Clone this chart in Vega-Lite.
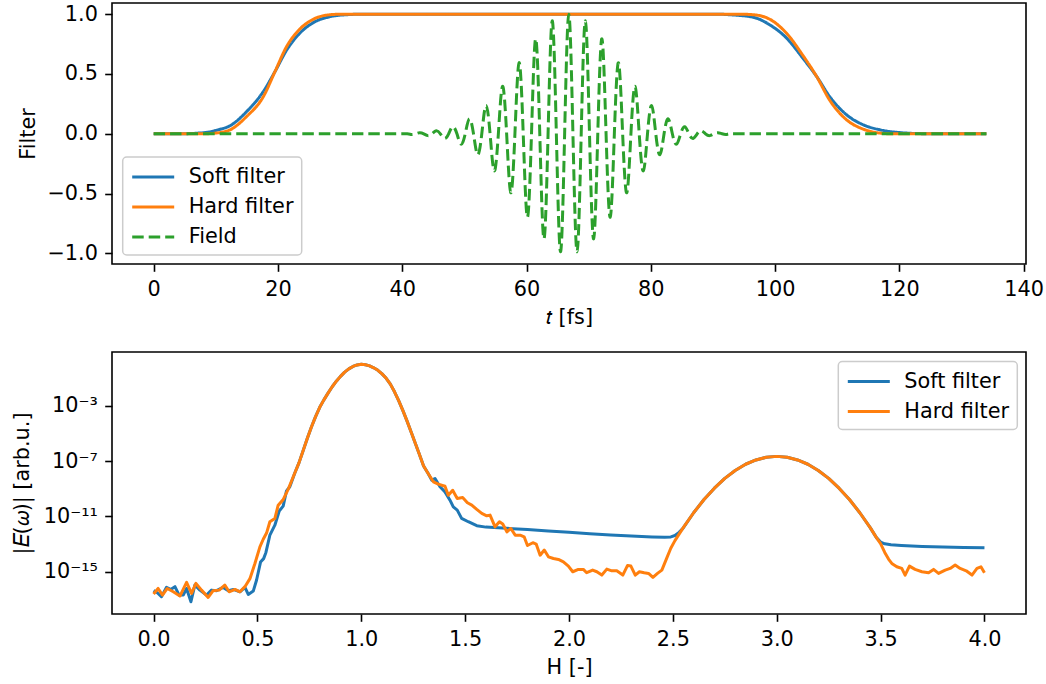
{
  "$schema": "https://vega.github.io/schema/vega-lite/v6.json",
  "padding": {"left": 10, "top": 2, "right": 0, "bottom": 0},
  "background": "white",
  "datasets": {
    "softT": [
      {"t":0,"v":0},{"t":5,"v":0.001},{"t":7,"v":0.005},{"t":9,"v":0.016},{"t":10.5,"v":0.035},{"t":12.28,"v":0.067},{"t":14.96,"v":0.186},{"t":17.64,"v":0.353},{"t":19.52,"v":0.52},{"t":21.4,"v":0.70},{"t":23.5,"v":0.84},{"t":25.68,"v":0.929},{"t":28.37,"v":0.979},{"t":31,"v":0.995},{"t":34,"v":1},{"t":90,"v":1},{"t":93,"v":0.994},{"t":96.48,"v":0.974},{"t":99.16,"v":0.91},{"t":101.85,"v":0.80},{"t":104.5,"v":0.63},{"t":106.7,"v":0.478},{"t":108.8,"v":0.31},{"t":111.5,"v":0.159},{"t":114.2,"v":0.075},{"t":116.9,"v":0.033},{"t":120.1,"v":0.01},{"t":124,"v":0.001},{"t":127,"v":0},{"t":134,"v":0}
    ],
    "hardT": [
      {"t":0,"v":0},{"t":8,"v":0},{"t":10,"v":0.006},{"t":11.2,"v":0.015},{"t":12.28,"v":0.033},{"t":14.96,"v":0.145},{"t":17.64,"v":0.31},{"t":19.52,"v":0.52},{"t":21.4,"v":0.73},{"t":23.5,"v":0.874},{"t":25.68,"v":0.957},{"t":28.37,"v":0.995},{"t":30.5,"v":1},{"t":94,"v":1},{"t":96.48,"v":0.995},{"t":99.16,"v":0.957},{"t":101.85,"v":0.84},{"t":104.5,"v":0.653},{"t":106.7,"v":0.478},{"t":108.8,"v":0.28},{"t":111.5,"v":0.117},{"t":114.2,"v":0.039},{"t":116.9,"v":0.006},{"t":119,"v":0},{"t":134,"v":0}
    ],
    "field": [
      {"t":0,"f":0},{"t":10,"f":0},{"t":20,"f":0},{"t":28,"f":0},{"t":33,"f":0},{"t":36.5,"f":0},{"t":39,"f":0},{"t":40.8,"f":0},
      {"t":41.467,"f":-0.0054},{"t":42.133,"f":0},{"t":42.8,"f":0.0093},{"t":43.467,"f":0},{"t":44.133,"f":-0.0153},{"t":44.8,"f":0},
      {"t":45.467,"f":0.0247},{"t":46.133,"f":0},{"t":46.8,"f":-0.0387},{"t":47.467,"f":0},{"t":48.133,"f":0.0589},{"t":48.8,"f":0},
      {"t":49.467,"f":-0.0869},{"t":50.133,"f":0},{"t":50.8,"f":0.1248},{"t":51.467,"f":0},{"t":52.133,"f":-0.174},{"t":52.8,"f":0},
      {"t":53.467,"f":0.2357},{"t":54.133,"f":0},{"t":54.8,"f":-0.3102},{"t":55.467,"f":0},{"t":56.133,"f":0.3965},{"t":56.8,"f":0},
      {"t":57.467,"f":-0.4925},{"t":58.133,"f":0},{"t":58.8,"f":0.5943},{"t":59.467,"f":0},{"t":60.133,"f":-0.6968},{"t":60.8,"f":0},
      {"t":61.467,"f":0.7935},{"t":62.133,"f":0},{"t":62.8,"f":-0.878},{"t":63.467,"f":0},{"t":64.133,"f":0.9438},{"t":64.8,"f":0},
      {"t":65.467,"f":-0.9857},{"t":66.133,"f":0},{"t":66.8,"f":1},{"t":67.467,"f":0},{"t":68.133,"f":-0.9857},{"t":68.8,"f":0},
      {"t":69.467,"f":0.9438},{"t":70.133,"f":0},{"t":70.8,"f":-0.878},{"t":71.467,"f":0},{"t":72.133,"f":0.7935},{"t":72.8,"f":0},
      {"t":73.467,"f":-0.6968},{"t":74.133,"f":0},{"t":74.8,"f":0.5943},{"t":75.467,"f":0},{"t":76.133,"f":-0.4925},{"t":76.8,"f":0},
      {"t":77.467,"f":0.3965},{"t":78.133,"f":0},{"t":78.8,"f":-0.3102},{"t":79.467,"f":0},{"t":80.133,"f":0.2357},{"t":80.8,"f":0},
      {"t":81.467,"f":-0.174},{"t":82.133,"f":0},{"t":82.8,"f":0.1248},{"t":83.467,"f":0},{"t":84.133,"f":-0.0869},{"t":84.8,"f":0},
      {"t":85.467,"f":0.0589},{"t":86.133,"f":0},{"t":86.8,"f":-0.0387},{"t":87.467,"f":0},{"t":88.133,"f":0.0247},{"t":88.8,"f":0},
      {"t":89.467,"f":-0.0153},{"t":90.133,"f":0},{"t":90.8,"f":0.0093},{"t":91.467,"f":0},{"t":92.133,"f":-0.0054},{"t":92.8,"f":0},
      {"t":94.5,"f":0},{"t":97,"f":0},{"t":101,"f":0},{"t":107,"f":0},{"t":115,"f":0},{"t":125,"f":0},{"t":134,"f":0}
    ],
    "softH": [
      {"H":0,"E":4.27e-17},{"H":0.018,"E":3.02e-17},{"H":0.038,"E":1.55e-17},{"H":0.062,"E":7.41e-17},{"H":0.082,"E":5.25e-17},{"H":0.103,"E":8.32e-17},{"H":0.123,"E":2.04e-17},{"H":0.143,"E":2.04e-17},{"H":0.159,"E":6.17e-17},{"H":0.18,"E":6.76e-18},{"H":0.199,"E":1.10e-16},{"H":0.223,"E":4.68e-17},{"H":0.255,"E":2.04e-17},{"H":0.279,"E":4.68e-17},{"H":0.303,"E":4.27e-17},{"H":0.335,"E":7.41e-17},{"H":0.36,"E":4.27e-17},{"H":0.384,"E":5.25e-17},{"H":0.416,"E":3.55e-17},{"H":0.44,"E":7.41e-17},{"H":0.456,"E":2.29e-17},{"H":0.48,"E":3.98e-17},{"H":0.496,"E":2.51e-16},{"H":0.515,"E":5.01e-15},{"H":0.53,"E":8.91e-15},{"H":0.541,"E":2.51e-14},{"H":0.56,"E":4.47e-13},{"H":0.584,"E":2.34e-12},{"H":0.605,"E":2.51e-11},{"H":0.624,"E":5.62e-11},{"H":0.64,"E":7.08e-10},{"H":0.656,"E":1.41e-9},
      {"H":0.68,"E":1.41e-8},{"H":0.70,"E":7.59e-8},{"H":0.72,"E":5.62e-7},{"H":0.74,"E":4.37e-6},{"H":0.76,"E":3.02e-5},{"H":0.78,"E":1.70e-4},{"H":0.80,"E":7.94e-4},{"H":0.82,"E":2.75e-3},{"H":0.84,"E":8.51e-3},{"H":0.86,"E":2.45e-2},{"H":0.88,"E":6.17e-2},{"H":0.90,"E":0.138},{"H":0.92,"E":0.282},{"H":0.94,"E":0.479},{"H":0.96,"E":0.724},{"H":0.98,"E":0.933},{"H":1.00,"E":1.023},{"H":1.02,"E":0.955},{"H":1.04,"E":0.794},{"H":1.06,"E":0.575},{"H":1.08,"E":0.380},{"H":1.10,"E":0.209},{"H":1.12,"E":0.1},{"H":1.14,"E":3.80e-2},{"H":1.16,"E":1.05e-2},{"H":1.18,"E":2.40e-3},{"H":1.20,"E":4.79e-4},{"H":1.22,"E":8.32e-5},{"H":1.24,"E":1.32e-5},{"H":1.26,"E":2.00e-6},{"H":1.28,"E":3.02e-7},{"H":1.30,"E":4.57e-8},
      {"H":1.322,"E":1.29e-8},{"H":1.339,"E":4.27e-9},{"H":1.355,"E":5.62e-9},{"H":1.379,"E":1.41e-9},{"H":1.403,"E":6.03e-10},{"H":1.427,"E":1.51e-10},{"H":1.443,"E":5.01e-11},{"H":1.462,"E":2.88e-11},{"H":1.483,"E":7.24e-12},{"H":1.515,"E":4.17e-12},{"H":1.556,"E":2.14e-12},{"H":1.60,"E":1.70e-12},{"H":1.70,"E":1.38e-12},{"H":1.80,"E":1.12e-12},{"H":1.90,"E":8.91e-13},{"H":2.00,"E":7.08e-13},{"H":2.10,"E":5.62e-13},{"H":2.20,"E":4.57e-13},{"H":2.30,"E":3.80e-13},{"H":2.40,"E":3.31e-13},{"H":2.46,"E":3.09e-13},{"H":2.49,"E":3.31e-13},{"H":2.51,"E":4.17e-13},{"H":2.53,"E":7.08e-13},{"H":2.55,"E":1.48e-12},
      {"H":2.60,"E":1.86e-11},{"H":2.65,"E":1.70e-10},{"H":2.70,"E":1.12e-9},{"H":2.75,"E":5.75e-9},{"H":2.80,"E":2.14e-8},{"H":2.85,"E":6.03e-8},{"H":2.90,"E":1.23e-7},{"H":2.95,"E":1.95e-7},{"H":3.00,"E":2.24e-7},{"H":3.05,"E":1.95e-7},{"H":3.10,"E":1.23e-7},{"H":3.15,"E":6.03e-8},{"H":3.20,"E":2.14e-8},{"H":3.25,"E":5.75e-9},{"H":3.30,"E":1.12e-9},{"H":3.35,"E":1.70e-10},{"H":3.40,"E":1.86e-11},{"H":3.45,"E":1.55e-12},
      {"H":3.48,"E":2.95e-13},{"H":3.50,"E":1.41e-13},{"H":3.52,"E":1.05e-13},{"H":3.55,"E":8.91e-14},{"H":3.60,"E":7.94e-14},{"H":3.70,"E":6.76e-14},{"H":3.80,"E":6.17e-14},{"H":3.90,"E":5.75e-14},{"H":4.00,"E":5.37e-14}
    ],
    "hardH": [
      {"H":0,"E":2.45e-17},{"H":0.022,"E":6.17e-17},{"H":0.043,"E":2.04e-17},{"H":0.066,"E":6.17e-17},{"H":0.095,"E":3.55e-17},{"H":0.127,"E":1.74e-17},{"H":0.159,"E":1.70e-16},{"H":0.183,"E":2.69e-17},{"H":0.204,"E":1.45e-16},{"H":0.231,"E":4.68e-17},{"H":0.263,"E":1.38e-17},{"H":0.287,"E":4.27e-17},{"H":0.316,"E":4.68e-17},{"H":0.343,"E":1.10e-16},{"H":0.364,"E":3.55e-17},{"H":0.392,"E":5.25e-17},{"H":0.416,"E":3.55e-17},{"H":0.44,"E":8.32e-17},{"H":0.464,"E":3.16e-16},{"H":0.488,"E":3.98e-15},{"H":0.512,"E":6.31e-14},{"H":0.528,"E":2.24e-13},{"H":0.544,"E":6.31e-13},{"H":0.56,"E":4.17e-12},{"H":0.584,"E":7.24e-12},{"H":0.60,"E":6.61e-11},{"H":0.624,"E":1.66e-10},{"H":0.649,"E":1e-9},
      {"H":0.68,"E":1.41e-8},{"H":0.70,"E":7.59e-8},{"H":0.72,"E":5.62e-7},{"H":0.74,"E":4.37e-6},{"H":0.76,"E":3.02e-5},{"H":0.78,"E":1.70e-4},{"H":0.80,"E":7.94e-4},{"H":0.82,"E":2.75e-3},{"H":0.84,"E":8.51e-3},{"H":0.86,"E":2.45e-2},{"H":0.88,"E":6.17e-2},{"H":0.90,"E":0.138},{"H":0.92,"E":0.282},{"H":0.94,"E":0.479},{"H":0.96,"E":0.724},{"H":0.98,"E":0.933},{"H":1.00,"E":1.023},{"H":1.02,"E":0.955},{"H":1.04,"E":0.794},{"H":1.06,"E":0.575},{"H":1.08,"E":0.380},{"H":1.10,"E":0.209},{"H":1.12,"E":0.1},{"H":1.14,"E":3.80e-2},{"H":1.16,"E":1.05e-2},{"H":1.18,"E":2.40e-3},{"H":1.20,"E":4.79e-4},{"H":1.22,"E":8.32e-5},{"H":1.24,"E":1.32e-5},{"H":1.26,"E":2.00e-6},{"H":1.28,"E":3.02e-7},{"H":1.30,"E":4.57e-8},
      {"H":1.322,"E":1.29e-8},{"H":1.347,"E":3.24e-9},{"H":1.371,"E":2.19e-9},{"H":1.403,"E":1.55e-9},{"H":1.419,"E":3.47e-10},{"H":1.44,"E":7.94e-10},{"H":1.462,"E":2.00e-10},{"H":1.488,"E":2.34e-10},{"H":1.511,"E":9.77e-11},{"H":1.532,"E":6.61e-11},{"H":1.556,"E":3.24e-11},{"H":1.58,"E":1.66e-11},{"H":1.604,"E":1.12e-11},{"H":1.62,"E":1.26e-11},{"H":1.644,"E":1.78e-12},{"H":1.665,"E":4.17e-12},{"H":1.681,"E":2.82e-12},{"H":1.701,"E":7.76e-13},{"H":1.72,"E":1.35e-12},{"H":1.741,"E":4.47e-13},{"H":1.765,"E":4.47e-13},{"H":1.784,"E":3.39e-13},{"H":1.80,"E":7.94e-14},{"H":1.826,"E":1.26e-13},{"H":1.842,"E":1e-13},{"H":1.861,"E":1.58e-14},{"H":1.881,"E":3.72e-14},{"H":1.901,"E":1.20e-14},{"H":1.925,"E":9.12e-15},{"H":1.949,"E":7.76e-15},{"H":1.973,"E":5.25e-15},{"H":1.997,"E":2.57e-15},{"H":2.018,"E":1e-15},{"H":2.045,"E":1.48e-15},{"H":2.069,"E":1.48e-15},{"H":2.085,"E":8.51e-16},{"H":2.114,"E":1.32e-15},{"H":2.134,"E":1e-15},{"H":2.158,"E":5.75e-16},{"H":2.182,"E":1.55e-15},{"H":2.206,"E":1.17e-15},{"H":2.23,"E":1.17e-15},{"H":2.259,"E":5.75e-16},{"H":2.282,"E":2.88e-15},{"H":2.298,"E":2.57e-15},{"H":2.319,"E":5.75e-16},{"H":2.339,"E":1e-15},{"H":2.362,"E":8.51e-16},{"H":2.383,"E":7.59e-16},{"H":2.404,"E":3.89e-16},{"H":2.426,"E":7.59e-16},{"H":2.447,"E":1.32e-15},{"H":2.471,"E":1e-14},{"H":2.49,"E":5.01e-14},{"H":2.51,"E":1.78e-13},{"H":2.53,"E":5.25e-13},{"H":2.55,"E":1.55e-12},
      {"H":2.60,"E":1.86e-11},{"H":2.65,"E":1.70e-10},{"H":2.70,"E":1.12e-9},{"H":2.75,"E":5.75e-9},{"H":2.80,"E":2.14e-8},{"H":2.85,"E":6.03e-8},{"H":2.90,"E":1.23e-7},{"H":2.95,"E":1.95e-7},{"H":3.00,"E":2.24e-7},{"H":3.05,"E":1.95e-7},{"H":3.10,"E":1.23e-7},{"H":3.15,"E":6.03e-8},{"H":3.20,"E":2.14e-8},{"H":3.25,"E":5.75e-9},{"H":3.30,"E":1.12e-9},{"H":3.35,"E":1.70e-10},{"H":3.40,"E":1.86e-11},{"H":3.45,"E":1.55e-12},
      {"H":3.48,"E":2.95e-13},{"H":3.50,"E":1.07e-13},{"H":3.52,"E":2.51e-14},{"H":3.539,"E":7.94e-15},{"H":3.554,"E":3.98e-15},{"H":3.578,"E":2.29e-15},{"H":3.602,"E":1.74e-15},{"H":3.618,"E":5.75e-16},{"H":3.639,"E":2.57e-15},{"H":3.666,"E":1.48e-15},{"H":3.699,"E":1e-15},{"H":3.731,"E":8.51e-16},{"H":3.755,"E":1.48e-15},{"H":3.779,"E":7.59e-16},{"H":3.811,"E":1.32e-15},{"H":3.835,"E":1.74e-15},{"H":3.859,"E":3.02e-15},{"H":3.883,"E":1.74e-15},{"H":3.912,"E":1.17e-15},{"H":3.94,"E":5.75e-16},{"H":3.964,"E":1.74e-15},{"H":3.983,"E":2.29e-15},{"H":4.00,"E":8.51e-16}
    ]
  },
  "spacing": 22,
  "resolve": {
    "scale": {"color": "independent", "strokeDash": "independent"},
    "legend": {"color": "independent", "strokeDash": "independent"}
  },
  "vconcat": [
    {
      "width": 914,
      "height": 261,
      "layer": [
        {
          "data": {"name": "softT"},
          "mark": {"type": "line", "interpolate": "monotone", "strokeWidth": 3, "strokeJoin": "round"},
          "encoding": {
            "x": {"field": "t", "type": "quantitative",
                  "scale": {"domain": [-6.71, 140.38], "nice": false, "zero": false},
                  "axis": {"title": "𝑡 [fs]", "values": [0, 20, 40, 60, 80, 100, 120, 140], "format": "d", "labelPadding": 8.5, "titlePadding": 8}},
            "y": {"field": "v", "type": "quantitative",
                  "scale": {"domain": [-1.088, 1.093], "nice": false, "zero": false},
                  "axis": {"title": "Filter", "values": [-1, -0.5, 0, 0.5, 1], "format": ".1f", "titlePadding": 8}},
            "color": {"datum": "Soft filter",
                      "scale": {"domain": ["Soft filter", "Hard filter", "Field"], "range": ["#1f77b4", "#ff7f0e", "#2ca02c"]},
                      "legend": {"orient": "none", "legendX": 10.7, "legendY": 154, "title": null}},
            "strokeDash": {"datum": "Soft filter",
                           "scale": {"domain": ["Soft filter", "Hard filter", "Field"], "range": [[1, 0], [1, 0], [11.5, 5]]},
                           "legend": {"orient": "none", "legendX": 10.7, "legendY": 154, "title": null}}
          }
        },
        {
          "data": {"name": "hardT"},
          "mark": {"type": "line", "interpolate": "monotone", "strokeWidth": 3, "strokeJoin": "round"},
          "encoding": {
            "x": {"field": "t", "type": "quantitative"},
            "y": {"field": "v", "type": "quantitative"},
            "color": {"datum": "Hard filter"},
            "strokeDash": {"datum": "Hard filter"}
          }
        },
        {
          "data": {"name": "field"},
          "mark": {"type": "line", "interpolate": "natural", "strokeWidth": 3, "strokeJoin": "round"},
          "encoding": {
            "x": {"field": "t", "type": "quantitative"},
            "y": {"field": "f", "type": "quantitative"},
            "color": {"datum": "Field"},
            "strokeDash": {"datum": "Field"}
          }
        }
      ]
    },
    {
      "width": 914,
      "height": 262,
      "layer": [
        {
          "data": {"name": "softH"},
          "mark": {"type": "line", "strokeWidth": 3, "strokeJoin": "round"},
          "encoding": {
            "x": {"field": "H", "type": "quantitative",
                  "scale": {"domain": [-0.2, 4.2], "nice": false, "zero": false},
                  "axis": {"title": "H [-]", "values": [0, 0.5, 1, 1.5, 2, 2.5, 3, 3.5, 4], "format": ".1f", "labelPadding": 8.5, "titlePadding": 8}},
            "y": {"field": "E", "type": "quantitative",
                  "scale": {"type": "log", "domain": [8.75e-19, 8.02], "nice": false},
                  "axis": {"title": "|𝐸(𝜔)| [arb.u.]", "values": [1e-15, 1e-11, 1e-7, 1e-3],
                           "labelExpr": "datum.value > 1e-5 ? '10⁻³' : datum.value > 1e-9 ? '10⁻⁷' : datum.value > 1e-13 ? '10⁻¹¹' : '10⁻¹⁵'",
                           "titlePadding": 11}},
            "color": {"datum": "Soft filter",
                      "scale": {"domain": ["Soft filter", "Hard filter"], "range": ["#1f77b4", "#ff7f0e"]},
                      "legend": {"orient": "none", "legendX": 726.3, "legendY": 9.5, "title": null}}
          }
        },
        {
          "data": {"name": "hardH"},
          "mark": {"type": "line", "strokeWidth": 3, "strokeJoin": "round"},
          "encoding": {
            "x": {"field": "H", "type": "quantitative"},
            "y": {"field": "E", "type": "quantitative"},
            "color": {"datum": "Hard filter"}
          }
        }
      ]
    }
  ],
  "config": {
    "font": "DejaVu Sans",
    "view": {"stroke": "black", "strokeWidth": 1.6},
    "axis": {
      "domain": false, "grid": false,
      "tickColor": "black", "tickSize": 7.3, "tickWidth": 1.6,
      "labelFont": "DejaVu Sans", "labelFontSize": 20.8, "labelColor": "black", "labelPadding": 7.3,
      "labelFlush": false, "labelOverlap": false,
      "titleFont": "DejaVu Sans", "titleFontSize": 20.8, "titleFontWeight": "normal", "titleColor": "black"
    },
    "legend": {
      "symbolType": "M-1,0H3", "symbolSize": 441, "symbolStrokeWidth": 3,
      "labelFont": "DejaVu Sans", "labelFontSize": 20.8, "labelColor": "black", "labelOffset": 34,
      "padding": 8, "rowPadding": 8,
      "fillColor": "rgba(255,255,255,0.8)", "strokeColor": "#cccccc", "cornerRadius": 4, "strokeWidth": 1.5
    }
  }
}
